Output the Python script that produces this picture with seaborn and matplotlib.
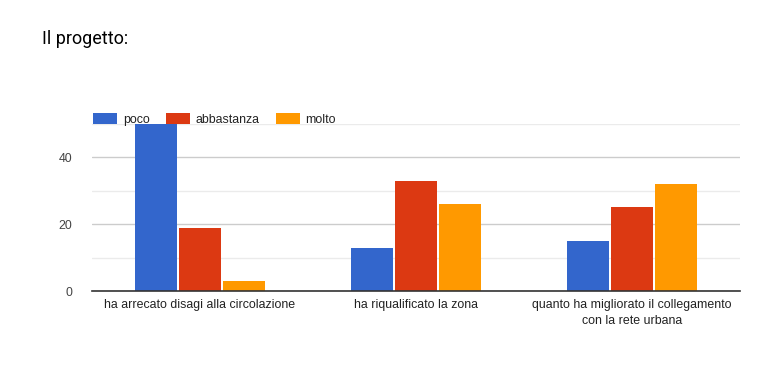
import matplotlib.pyplot as plt
import pandas as pd
import seaborn as sns
from matplotlib.patches import Patch

# Data
categories = [
    "ha arrecato disagi alla circolazione",
    "ha riqualificato la zona",
    "quanto ha migliorato il collegamento\ncon la rete urbana",
]
series = ["poco", "abbastanza", "molto"]
poco = [50, 13, 15]
abbastanza = [19, 33, 25]
molto = [3, 26, 32]
colors = ["#3366cc", "#dc3912", "#ff9900"]

df = pd.DataFrame({
    "categoria": categories * 3,
    "risposta": [s for s in series for _ in categories],
    "valore": poco + abbastanza + molto,
})

sns.set_theme(style="white")
plt.rcParams["font.family"] = ["Liberation Sans", "DejaVu Sans"]

fig = plt.figure(figsize=(7.7, 3.73), dpi=100)
ax = fig.add_axes([0.1195, 0.2198, 0.8415, 0.4478])

sns.barplot(
    data=df, x="categoria", y="valore", hue="risposta",
    palette=colors, saturation=1, width=0.61, gap=0.03, ax=ax, legend=False,
    edgecolor="none", linewidth=0, zorder=3,
)

ax.set_ylim(0, 50)
ax.set_xlim(-0.5, 2.5)
ax.set_yticks([0, 20, 40])
ax.set_yticks([10, 30, 50], minor=True)
ax.grid(axis="y", which="major", color="#cccccc", linewidth=1, zorder=0)
ax.grid(axis="y", which="minor", color="#ebebeb", linewidth=1, zorder=0)
ax.set_axisbelow(True)
ax.tick_params(axis="both", which="both", length=0, labelsize=8.9, colors="#444444")
ax.tick_params(axis="y", pad=14)
ax.tick_params(axis="x", pad=6)
for lbl in ax.get_xticklabels():
    lbl.set_color("#222222")
    lbl.set_linespacing(1.45)
ax.set_xlabel("")
ax.set_ylabel("")
for side in ["top", "right", "left"]:
    ax.spines[side].set_visible(False)
ax.spines["bottom"].set_color("#333333")
ax.spines["bottom"].set_linewidth(1.2)
ax.spines["bottom"].set_zorder(5)

handles = [Patch(facecolor=c, edgecolor="none") for c in colors]
fig.legend(
    handles, series, loc="upper left", bbox_to_anchor=(0.118, 0.703),
    ncol=3, frameon=False, fontsize=8.9, handlelength=1.95, handleheight=1.0,
    handletextpad=0.45, columnspacing=1.3, labelcolor="#222222",
    borderaxespad=0, borderpad=0.2,
)

fig.text(0.055, 0.895, "Il progetto:", fontsize=13, family="Roboto",
         color="#000000", va="center")

fig.savefig("out.png", dpi=100, facecolor="white")
